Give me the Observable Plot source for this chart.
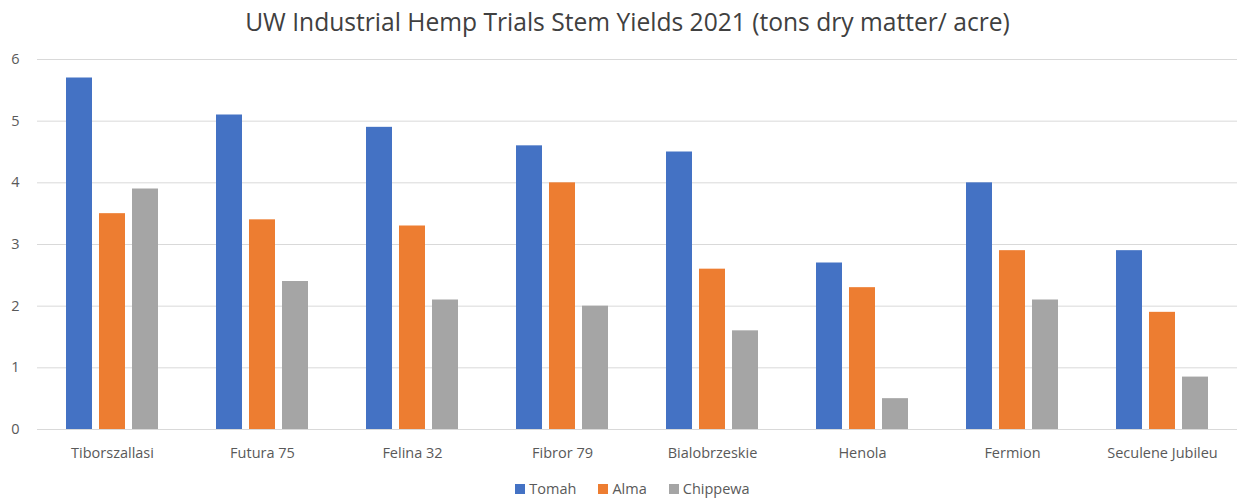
<!DOCTYPE html>
<html>
<head>
<meta charset="utf-8">
<script src="https://cdn.jsdelivr.net/npm/d3@7"></script>
<script src="https://cdn.jsdelivr.net/npm/@observablehq/plot@0.6"></script>
<style>
  html, body { margin: 0; padding: 0; background: #fff; }
  body { width: 1239px; height: 500px; overflow: hidden; font-family: "Open Sans", sans-serif; }
  #title { height: 40px; line-height: 44px; text-align: center; font-size: 24.6px; color: #404040; padding-left: 16px; }
  #legend { display: flex; justify-content: center; align-items: center; gap: 22px; font-size: 14.5px; color: #595959; margin-top: 9px; padding-left: 26px; }
  #legend span.sw { display: inline-block; width: 10px; height: 10px; margin-right: 4px; }
</style>
</head>
<body>
<div id="title"></div>
<div id="chart"></div>
<div id="legend"></div>
<script>
const titleText = "UW Industrial Hemp Trials Stem Yields 2021 (tons dry matter/ acre)";
const categories = ["Tiborszallasi", "Futura 75", "Felina 32", "Fibror 79", "Bialobrzeskie", "Henola", "Fermion", "Seculene Jubileu"];
const seriesNames = ["Tomah", "Alma", "Chippewa"];
const seriesColors = ["#4472C4", "#ED7D31", "#A5A5A5"];
const tomah = [5.7, 5.1, 4.9, 4.6, 4.5, 2.7, 4.0, 2.9];
const alma = [3.5, 3.4, 3.3, 4.0, 2.6, 2.3, 2.9, 1.9];
const chippewa = [3.9, 2.4, 2.1, 2.0, 1.6, 0.5, 2.1, 0.85];
const yTicks = [0, 1, 2, 3, 4, 5, 6];

const seriesValues = [tomah, alma, chippewa];
const rows = [];
categories.forEach((c, i) => {
  seriesNames.forEach((s, j) => rows.push({category: c, series: s, value: seriesValues[j][i]}));
});

document.getElementById("title").textContent = titleText;

const chart = Plot.plot({
  width: 1239,
  height: 430,
  marginTop: 19,
  marginBottom: 41,
  marginLeft: 37,
  marginRight: 2,
  style: {fontFamily: "'Open Sans', sans-serif", fontSize: "14.5px", color: "#595959", background: "#fff"},
  fx: {domain: categories, padding: 0, label: null, axis: "bottom", tickSize: 0, tickPadding: 18},
  x: {domain: seriesNames, paddingInner: 0.2, paddingOuter: 0.85, axis: null},
  y: {domain: [0, 6], ticks: yTicks, tickFormat: d3.format("d"), tickSize: 0, tickPadding: 18, label: null, grid: false},
  color: {domain: seriesNames, range: seriesColors},
  marks: [
    Plot.ruleY(yTicks, {y: d => d, stroke: "#d9d9d9", strokeWidth: 1}),
    Plot.barY(rows, {fx: "category", x: "series", y: "value", fill: "series"})
  ]
});
document.getElementById("chart").appendChild(chart);

const legend = document.getElementById("legend");
seriesNames.forEach((s, i) => {
  const item = document.createElement("div");
  const sw = document.createElement("span");
  sw.className = "sw";
  sw.style.background = seriesColors[i];
  item.appendChild(sw);
  item.appendChild(document.createTextNode(s));
  legend.appendChild(item);
});
</script>
</body>
</html>
